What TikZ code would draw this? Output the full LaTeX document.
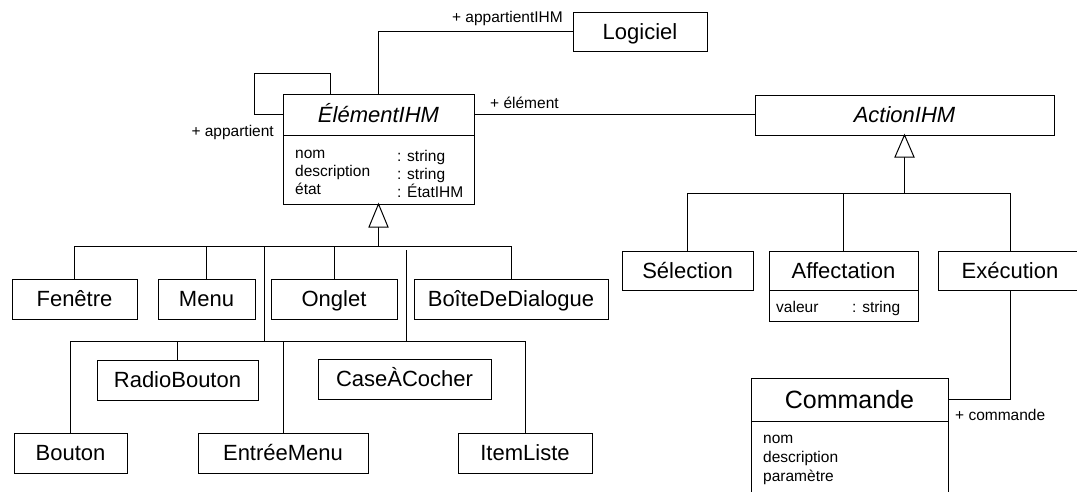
\documentclass[tikz,border=0pt]{standalone}
\usepackage{fontspec}
\setmainfont{Liberation Sans}
\begin{document}
\begin{tikzpicture}[x=1pt,y=-1pt,
  box/.style={draw, line width=1pt, inner sep=0pt, outer sep=0pt, fill=white},
  cname/.style={font=\fontsize{22}{26}\selectfont, text height=15.8pt, text depth=0pt, inner sep=0pt, outer sep=0pt},
  iname/.style={font=\fontsize{22}{26}\selectfont\itshape, text height=15.8pt, text depth=0pt, inner sep=0pt, outer sep=0pt},
  small/.style={font=\fontsize{15.5}{18}\selectfont, inner sep=0pt, anchor=base west},
  lbl/.style={font=\fontsize{15.5}{18}\selectfont, inner sep=0pt},
  conn/.style={line width=1pt},
  gen/.style={line width=1pt, fill=white}]
\useasboundingbox (0,0) rectangle (1077,491);
\clip (0,0) rectangle (1077,491);
\fill[white] (0,0) rectangle (1077,491);

% --- classes ---
\node[box,cname,minimum width=134pt,minimum height=39pt] (logiciel) at (640,31.5) {Logiciel};

\node[box,minimum width=191pt,minimum height=110pt] (elem) at (378.5,149) {};
\node[iname,minimum width=191pt,minimum height=41pt] (elemtitle) at (378.5,114.5) {ÉlémentIHM};
\draw[conn] (elemtitle.south west) -- (elemtitle.south east);
\node[small] (ea1) at (295,158) {nom};
\node[small] (ea2) at (295,176) {description};
\node[small] (ea3) at (295,194) {état};
\node[small] (et1) at (397,161) {: string};
\node[small] (et2) at (397,179) {: string};
\node[small] (et3) at (397,197) {: ÉtatIHM};

\node[box,iname,minimum width=299pt,minimum height=40pt] (action) at (904.5,115) {ActionIHM};

\node[box,cname,minimum width=131pt,minimum height=39pt] (selection) at (687.5,270.5) {Sélection};
\node[box,minimum width=149pt,minimum height=70pt] (affect) at (843.5,286) {};
\node[cname,minimum width=149pt,minimum height=39pt] (affecttitle) at (843.5,270.5) {Affectation};
\draw[conn] (affecttitle.south west) -- (affecttitle.south east);
\node[small] (aa1) at (776,312) {valeur};
\node[small] (at1) at (852,312) {: string};
\node[box,cname,minimum width=144pt,minimum height=39pt] (exec) at (1010,270.5) {Exécution};

\node[box,minimum width=197pt,minimum height=132pt] (cmd) at (849.5,444) {};
\node[cname,font=\fontsize{25}{29}\selectfont,text height=18pt,minimum width=197pt,minimum height=43pt] (cmdtitle) at (849.5,399.5) {Commande};
\draw[conn] (cmdtitle.south west) -- (cmdtitle.south east);
\node[small] (ca1) at (763,443) {nom};
\node[small] (ca2) at (763,462) {description};
\node[small] (ca3) at (763,481) {paramètre};

\node[box,cname,minimum width=125pt,minimum height=40pt] (fenetre) at (74.5,299) {Fenêtre};
\node[box,cname,minimum width=97pt,minimum height=40pt] (menu) at (206.5,299) {Menu};
\node[box,cname,minimum width=126pt,minimum height=40pt] (onglet) at (334,299) {Onglet};
\node[box,cname,minimum width=194pt,minimum height=40pt] (boite) at (511,299) {BoîteDeDialogue};

\node[box,cname,minimum width=161pt,minimum height=40pt] (radio) at (177.5,380) {RadioBouton};
\node[box,cname,minimum width=173pt,minimum height=40pt] (casec) at (404.5,379) {CaseÀCocher};
\node[box,cname,minimum width=113pt,minimum height=40pt] (bouton) at (70.5,453) {Bouton};
\node[box,cname,minimum width=170pt,minimum height=40pt] (entree) at (283,453) {EntréeMenu};
\node[box,cname,minimum width=134pt,minimum height=40pt] (itemliste) at (525,453) {ItemListe};

% --- associations ---
\draw[conn] (logiciel.west) -| (elem.north);
\coordinate (loopA) at (254,73);
\coordinate (loopB) at (330,94);
\draw[conn] (elemtitle.west) -| (loopA) -| (loopB);
\draw[conn] (elemtitle.east) -- (elemtitle.east -| action.west);
\draw[conn] (exec.south) |- (cmdtitle.east);

\node[lbl,anchor=base east] (l1) at (563,22.5) {+ appartientIHM};
\node[lbl,anchor=base east] (l2) at (274,136) {+ appartient};
\node[lbl,anchor=base west] (l3) at (490,108) {+ élément};
\node[lbl,anchor=base west] (l4) at (955,420) {+ commande};

% --- generalisation: ElementIHM ---
\path (elem.south) ++(0,23) coordinate (ebase);
\coordinate (bar1) at (378.5,246);
\coordinate (bar2) at (264,341);
\coordinate (j1) at (264,246);
\coordinate (j2) at (406,250);
\draw[conn] (ebase) -- (bar1);
\draw[conn] (fenetre.north) -- (fenetre.north |- bar1) -- (boite.north |- bar1) -- (boite.north);
\draw[conn] (menu.north) -- (menu.north |- bar1);
\draw[conn] (onglet.north) -- (onglet.north |- bar1);
\draw[conn] (j1) -- (bar2);
\draw[conn] (j2) -- (j2 |- bar2);
\draw[conn] (bouton.north) -- (bouton.north |- bar2) -- (itemliste.north |- bar2) -- (itemliste.north);
\draw[conn] (radio.north) -- (radio.north |- bar2);
\draw[conn] (entree.north) -- (entree.north |- bar2);
\draw[gen] (elem.south) -- ++(-9.5,23) -- ++(19,0) -- cycle;

% --- generalisation: ActionIHM ---
\path (action.south) ++(0,22) coordinate (abase);
\coordinate (bar3) at (904.5,193);
\draw[conn] (abase) -- (bar3);
\draw[conn] (selection.north) -- (selection.north |- bar3) -- (exec.north |- bar3) -- (exec.north);
\draw[conn] (affect.north) -- (affect.north |- bar3);
\draw[gen] (action.south) -- ++(-9.5,22) -- ++(19,0) -- cycle;
\end{tikzpicture}
\end{document}
